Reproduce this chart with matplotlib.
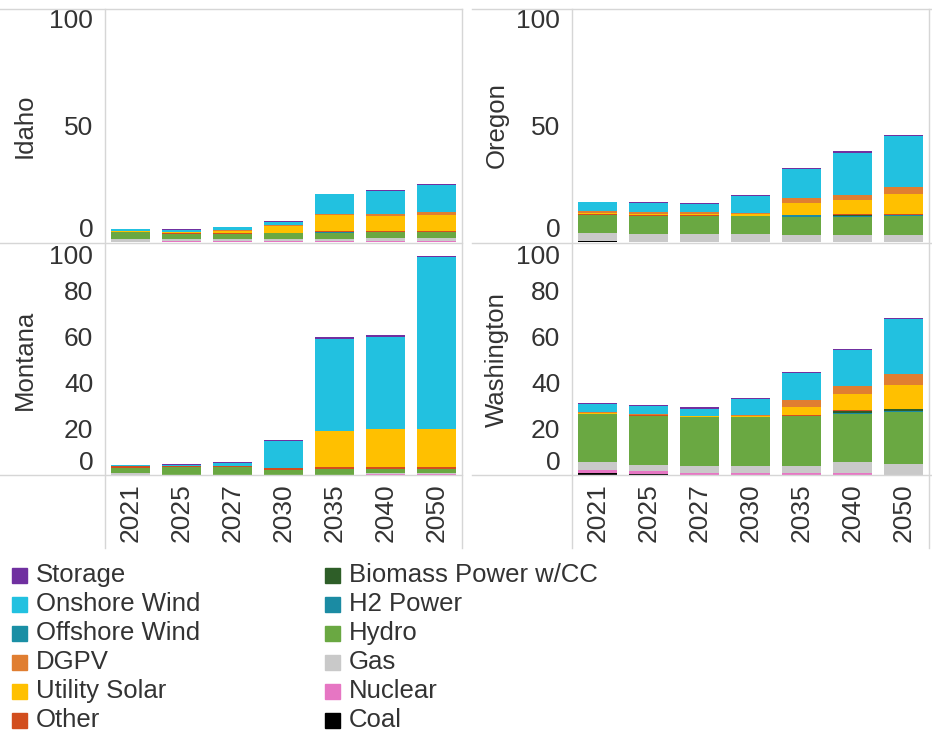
import matplotlib
matplotlib.use("Agg")
import matplotlib.pyplot as plt
from matplotlib.lines import Line2D
from matplotlib.patches import Rectangle
import numpy as np

plt.rcParams['font.family'] = ['Liberation Sans', 'DejaVu Sans']

years = ["2021", "2025", "2027", "2030", "2035", "2040", "2050"]

# stacking order bottom -> top
series = ["Coal", "Nuclear", "Gas", "Hydro", "H2 Power", "Biomass Power w/CC",
          "Other", "Utility Solar", "DGPV", "Offshore Wind", "Onshore Wind", "Storage"]
colors = {
    "Storage": "#7030A0",
    "Onshore Wind": "#22C1E0",
    "Offshore Wind": "#1A8FA5",
    "DGPV": "#E07E31",
    "Utility Solar": "#FFC000",
    "Other": "#D24E1E",
    "Biomass Power w/CC": "#2E5E28",
    "H2 Power": "#1B8BA3",
    "Hydro": "#6AA842",
    "Gas": "#C9C9C9",
    "Nuclear": "#E676C3",
    "Coal": "#000000",
}
legend_order = ["Storage", "Onshore Wind", "Offshore Wind", "DGPV", "Utility Solar", "Other",
                "Biomass Power w/CC", "H2 Power", "Hydro", "Gas", "Nuclear", "Coal"]

idaho = {
    "Coal":               [0, 0, 0, 0, 0, 0, 0],
    "Nuclear":            [0.2, 0.3, 0.3, 0.3, 0.3, 0.4, 0.4],
    "Gas":                [1.2, 1.1, 1.1, 1.1, 1.1, 1.3, 1.5],
    "Hydro":              [2.8, 2.1, 2.2, 2.3, 2.6, 2.4, 2.4],
    "H2 Power":           [0, 0, 0, 0, 0.3, 0.2, 0.2],
    "Biomass Power w/CC": [0, 0, 0, 0, 0, 0, 0],
    "Other":              [0.3, 0.3, 0.3, 0.3, 0.3, 0.4, 0.4],
    "Utility Solar":      [0.2, 0.5, 1.0, 3.0, 7.2, 6.6, 6.7],
    "DGPV":               [0, 0.2, 0.3, 0.2, 0.2, 0.9, 1.3],
    "Offshore Wind":      [0, 0, 0, 0, 0, 0, 0],
    "Onshore Wind":       [1.0, 0.6, 1.1, 1.4, 8.4, 9.6, 11.7],
    "Storage":            [0, 0.4, 0.3, 0.3, 0.4, 0.4, 0.5],
}
oregon = {
    "Coal":               [0.5, 0, 0, 0, 0, 0, 0],
    "Nuclear":            [0, 0, 0, 0, 0, 0, 0],
    "Gas":                [3.2, 3.3, 3.3, 3.3, 2.9, 2.9, 2.9],
    "Hydro":              [8.0, 7.7, 7.7, 7.7, 7.9, 7.9, 8.2],
    "H2 Power":           [0, 0, 0, 0, 0.6, 0.3, 0.5],
    "Biomass Power w/CC": [0, 0.3, 0.3, 0, 0, 0.5, 0],
    "Other":              [0.4, 0.4, 0.4, 0.3, 0.3, 0.3, 0.3],
    "Utility Solar":      [0.5, 0.2, 0.2, 0.9, 5.0, 6.3, 8.9],
    "DGPV":               [0.5, 1.0, 0.9, 0.3, 2.3, 2.0, 2.6],
    "Offshore Wind":      [0, 0, 0, 0, 0, 0, 0],
    "Onshore Wind":       [4.0, 3.7, 3.6, 7.2, 12.3, 18.2, 21.9],
    "Storage":            [0.2, 0.4, 0.4, 0.4, 0.5, 0.5, 0.5],
}
montana = {
    "Coal":               [0, 0, 0, 0, 0, 0, 0],
    "Nuclear":            [0.2, 0.2, 0.2, 0.2, 0.2, 0.3, 0.3],
    "Gas":                [0.8, 0, 0, 0, 0, 0.6, 0.6],
    "Hydro":              [1.9, 3.2, 3.3, 1.9, 2.6, 1.9, 1.9],
    "H2 Power":           [0, 0, 0, 0, 0, 0, 0],
    "Biomass Power w/CC": [0, 0, 0, 0, 0, 0, 0],
    "Other":              [0.9, 0.3, 0.3, 0.9, 0.7, 0.7, 0.7],
    "Utility Solar":      [0, 0, 0, 0, 15.8, 16.7, 16.7],
    "DGPV":               [0, 0, 0, 0, 0, 0, 0],
    "Offshore Wind":      [0, 0, 0, 0, 0, 0, 0],
    "Onshore Wind":       [0.6, 0.5, 1.2, 11.7, 40.0, 40.0, 74.5],
    "Storage":            [0, 0.4, 0.5, 0.4, 0.5, 0.5, 0.5],
}
washington = {
    "Coal":               [1.0, 0.3, 0, 0, 0, 0, 0],
    "Nuclear":            [1.3, 1.4, 0.9, 0.9, 0.9, 0.9, 0],
    "Gas":                [3.2, 2.8, 3.2, 3.2, 3.2, 4.9, 4.9],
    "Hydro":              [20.9, 21.2, 21.0, 21.0, 21.6, 20.9, 22.6],
    "H2 Power":           [0, 0, 0, 0, 0, 0.3, 0.3],
    "Biomass Power w/CC": [0, 0, 0, 0, 0, 1.0, 0.8],
    "Other":              [0.3, 0.3, 0.2, 0.3, 0.4, 0.3, 0.3],
    "Utility Solar":      [0.4, 0.3, 0.3, 0.4, 3.3, 7.0, 10.1],
    "DGPV":               [0.4, 0.3, 0.2, 0.4, 3.2, 3.2, 4.8],
    "Offshore Wind":      [0, 0, 0, 0, 0, 0, 0],
    "Onshore Wind":       [3.3, 3.6, 3.0, 6.7, 11.6, 15.9, 24.1],
    "Storage":            [0.4, 0.4, 0.7, 0.5, 0.5, 0.5, 0.5],
}

top_ticks = [0, 50, 100]
bottom_ticks = [0, 20, 40, 60, 80, 100]

W, H = 932, 736
fig = plt.figure(figsize=(W / 100, H / 100), dpi=100)
TXT = "#333333"
LINE = "#d6d6d6"


def fx(px):
    return px / W


def fy(py):
    return 1 - py / H


panels = [
    ("Idaho", idaho, 105, 9, 242, top_ticks, False, 25),
    ("Oregon", oregon, 572, 9, 242, top_ticks, False, 497),
    ("Montana", montana, 105, 245, 475, bottom_ticks, True, 25),
    ("Washington", washington, 572, 245, 475, bottom_ticks, True, 497),
]
pw = 357

for name, data, x0, ytop, ybot, ticks, show_x, labx in panels:
    ax = fig.add_axes([fx(x0), fy(ybot), pw / W, (ybot - ytop) / H])
    x = np.arange(len(years))
    bottom = np.zeros(len(years))
    for s in series:
        vals = np.array(data[s], dtype=float)
        ax.bar(x, vals, bottom=bottom, width=0.75, color=colors[s], linewidth=0)
        bottom += vals
    ax.set_xlim(-0.5, len(years) - 0.5)
    ax.set_ylim(0, 100)
    ax.set_yticks(ticks)
    ax.set_yticklabels([str(t) for t in ticks])
    ax.tick_params(axis='y', length=0, pad=8.5, labelsize=19, labelcolor=TXT)
    yt = ax.yaxis.get_major_ticks()
    yt[0].label1.set_verticalalignment('bottom')
    yt[-1].label1.set_verticalalignment('top')
    if show_x:
        ax.set_xticks(x)
        ax.set_xticklabels(years, rotation=90)
        ax.tick_params(axis='x', length=0, pad=6, labelsize=19, labelcolor=TXT)
    else:
        ax.set_xticks([])
    for sp in ax.spines.values():
        sp.set_visible(False)
    fig.text(fx(labx), fy((ytop + ybot) / 2), name, rotation=90, ha='center', va='center',
             fontsize=18.5, color=TXT)

# table-like frame lines
def hline(py, x1, x2, c=LINE):
    fig.add_artist(Line2D([fx(x1), fx(x2)], [fy(py), fy(py)], color=c, lw=1.0))


def vline(px, y1, y2, c=LINE):
    fig.add_artist(Line2D([fx(px), fx(px)], [fy(y1), fy(y2)], color=c, lw=1.0))


for py in (9, 243, 475):
    hline(py, 0, 462)
    hline(py, 472, 932)
for px in (105, 462, 572, 929):
    vline(px, 9, 548)

# legend (two columns)
row_y = [575, 604, 633, 662, 691, 720]
col_x = [12, 325]
for i, s in enumerate(legend_order):
    c, r = divmod(i, 6)
    sx, sy = col_x[c], row_y[r]
    fig.add_artist(Rectangle((fx(sx), fy(sy + 7.5)), 15 / W, 15 / H, color=colors[s],
                             transform=fig.transFigure))
    fig.text(fx(sx + 24), fy(sy), s, ha='left', va='center', fontsize=18.5, color=TXT)

fig.savefig("out.png", dpi=100)
